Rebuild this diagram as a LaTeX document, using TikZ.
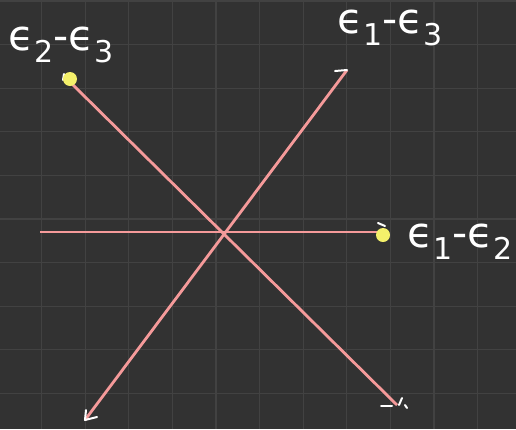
\documentclass[tikz,border=0pt]{standalone}
\usepackage{fontspec}
\newfontfamily\lblfont{DejaVu Sans}[Scale=1]
\usepackage{xcolor}
\definecolor{bg}{HTML}{323232}
\definecolor{gridc}{HTML}{424242}
\definecolor{rootline}{HTML}{F59A9A}
\definecolor{dotc}{HTML}{F4F06A}
\newcommand{\sbx}[1]{\raisebox{-0.28em}{\fontsize{30}{30}\selectfont #1}}
\tikzset{
  rootray/.style={draw=rootline, line width=2.8pt},
  tipstroke/.style={draw=white, line width=2pt, line cap=round},
  rootdot/.style={circle, fill=dotc, inner sep=0pt, minimum size=14pt},
  rootlabel/.style={text=white, inner sep=0pt, font=\lblfont\fontsize{42}{48}\selectfont}
}
\begin{document}
\begin{tikzpicture}[x=1pt,y=-1pt]
\fill[bg] (0,0) rectangle (516,429);
\useasboundingbox (0,0) rectangle (516,429);
% grid
\foreach \k in {0,...,12} {
  \draw[gridc, line width=1.3pt] ({-2+43.6*\k},0) -- ({-2+43.6*\k},429);
  \draw[gridc, line width=1.3pt] (0,{1+43.6*\k}) -- (516,{1+43.6*\k});
}
% points
\coordinate (O) at (225,232);
\coordinate (A) at (68,80);
\coordinate (B) at (347,70);
\coordinate (C) at (382,232);
\coordinate (W) at (40,232);
\coordinate (D) at (85,420);
\coordinate (E) at (397,405);
% rays
\draw[rootray] (A) -- (E);
\draw[rootray] (B) -- (D);
\draw[rootray] (W) -- (C);
% white hand-drawn tips
\draw[tipstroke] (B) -- ++(-12,1);
\draw[tipstroke] (C) ++(-4,-9) -- ++(7,3);
\draw[tipstroke] (D) -- ++(1,-10);
\draw[tipstroke] (D) -- ++(12,-3);
\draw[tipstroke] (E) ++(-16,1) -- ++(11,0);
\draw[tipstroke] (E) ++(2,0) -- ++(3,-7);
\draw[tipstroke] (E) ++(8,0) -- ++(2,3);
\draw[tipstroke] (A) ++(-4,-6) -- ++(-1,6);
% dots
\node[rootdot] (dA) at (70,79) {};
\node[rootdot] (dC) at (383,235) {};
% labels
\node[rootlabel] (lA) at (61,45) {ϵ\sbx{2}-ϵ\sbx{3}};
\node[rootlabel] (lB) at (390,28) {ϵ\sbx{1}-ϵ\sbx{3}};
\node[rootlabel] (lC) at (460,242) {ϵ\sbx{1}-ϵ\sbx{2}};
\end{tikzpicture}
\end{document}
